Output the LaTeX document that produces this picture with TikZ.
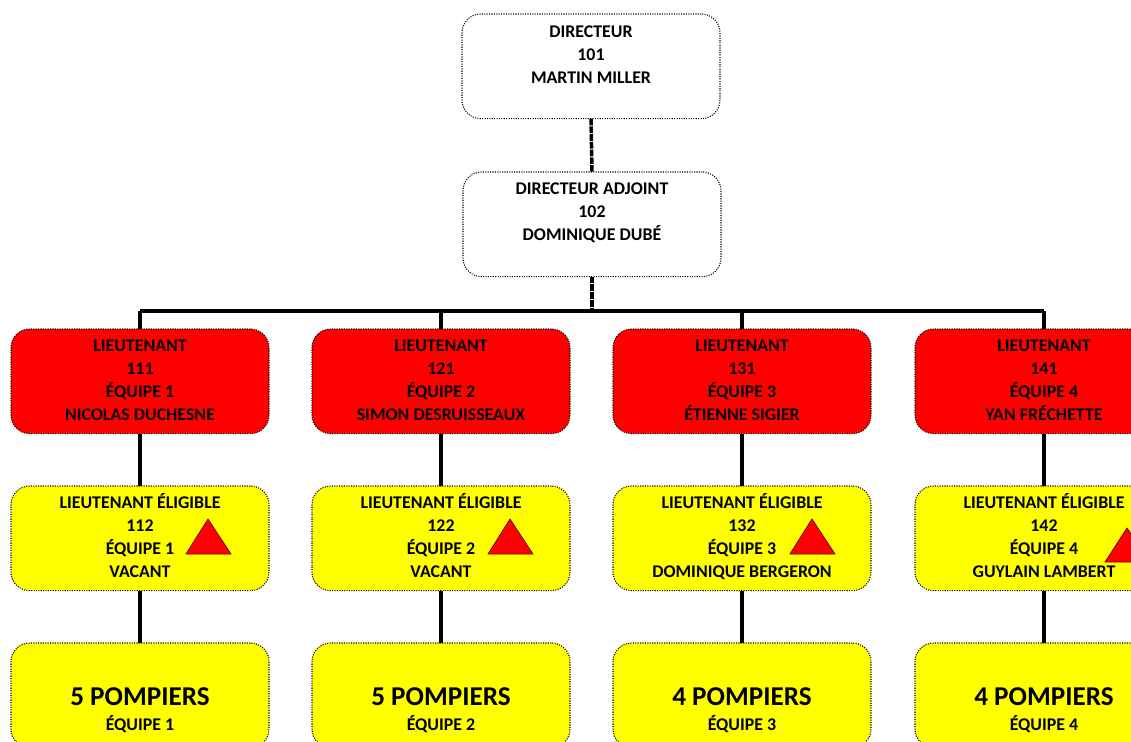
\documentclass[tikz,border=0pt]{standalone}
\usepackage{fontspec}
\setmainfont{Carlito}
\definecolor{pureyellow}{RGB}{255,255,0}
\definecolor{purered}{RGB}{255,0,0}
\newcommand{\boxtext}[2]{\begin{minipage}[c][78.2pt][t]{192pt}\centering\bfseries\fontsize{13.4pt}{17.25pt}\selectfont\vspace*{#1}#2\end{minipage}}
\newcommand{\bigtext}[2]{\begin{minipage}[c][78.2pt][t]{192pt}\centering\bfseries\vspace*{33pt}{\fontsize{20.4pt}{24pt}\selectfont #1\par}\vspace{2pt}{\fontsize{13.4pt}{17.25pt}\selectfont #2\par}\end{minipage}}
\tikzset{
  x=0.75pt,y=-0.75pt,
  orgbox/.style={draw=black,line width=0.8pt,densely dotted,rounded corners=14pt,inner sep=0pt,outer sep=0pt,anchor=north west,minimum width=193.5pt,minimum height=78.5pt},
  whitebox/.style={orgbox,fill=white},
  redbox/.style={orgbox,fill=purered},
  yellowbox/.style={orgbox,fill=pureyellow},
  link/.style={draw=black,line width=2.5pt},
  duplink/.style={draw=black,line width=2.6pt,dash pattern=on 5pt off 0.8pt},
  buslink/.style={draw=black,line width=2.5pt},
  warn/.style={draw=black!60!red,line width=0.5pt,fill=purered},
}
\begin{document}
\begin{tikzpicture}
\useasboundingbox (0,0) rectangle (1131,742);
\clip (0,0) rectangle (1131,742);
\coordinate (busL) at (140,311);
\coordinate (busM) at (592,311);
\coordinate (busR) at (1044,311);
\node[whitebox] (dir) at (462,14) {\boxtext{8.5pt}{DIRECTEUR\\101\\MARTIN MILLER}};
\node[whitebox] (adj) at (463,172) {\boxtext{8pt}{DIRECTEUR ADJOINT\\102\\DOMINIQUE DUBÉ}};
\node[redbox] (l1) at (11,329) {\boxtext{7.75pt}{LIEUTENANT\\111\\ÉQUIPE 1\\NICOLAS DUCHESNE}};
\node[redbox] (l2) at (312,329) {\boxtext{7.75pt}{LIEUTENANT\\121\\ÉQUIPE 2\\SIMON DESRUISSEAUX}};
\node[redbox] (l3) at (613,329) {\boxtext{7.75pt}{LIEUTENANT\\131\\ÉQUIPE 3\\ÉTIENNE SIGIER}};
\node[redbox] (l4) at (915,329) {\boxtext{7.75pt}{LIEUTENANT\\141\\ÉQUIPE 4\\YAN FRÉCHETTE}};
\node[yellowbox] (e1) at (11,486) {\boxtext{5.25pt}{LIEUTENANT ÉLIGIBLE\\112\\ÉQUIPE 1\\VACANT}};
\node[yellowbox] (e2) at (312,486) {\boxtext{5.25pt}{LIEUTENANT ÉLIGIBLE\\122\\ÉQUIPE 2\\VACANT}};
\node[yellowbox] (e3) at (613,486) {\boxtext{5.25pt}{LIEUTENANT ÉLIGIBLE\\132\\ÉQUIPE 3\\DOMINIQUE BERGERON}};
\node[yellowbox] (e4) at (915,486) {\boxtext{5.25pt}{LIEUTENANT ÉLIGIBLE\\142\\ÉQUIPE 4\\GUYLAIN LAMBERT}};
\node[yellowbox] (p1) at (11,643) {\bigtext{5 POMPIERS}{ÉQUIPE 1}};
\node[yellowbox] (p2) at (312,643) {\bigtext{5 POMPIERS}{ÉQUIPE 2}};
\node[yellowbox] (p3) at (613,643) {\bigtext{4 POMPIERS}{ÉQUIPE 3}};
\node[yellowbox] (p4) at (915,643) {\bigtext{4 POMPIERS}{ÉQUIPE 4}};
\draw[duplink] (dir.south) -- (adj.north);
\draw[duplink] (adj.south) -- (busM);
\draw[buslink] (busL) -- (busR);
\foreach \n in {1,2,3,4}{
  \draw[link] (l\n.north |- busL) -- (l\n.north);
  \draw[link] (l\n.south) -- (e\n.north);
  \draw[link] (e\n.south) -- (p\n.north);
}
\draw[warn] (186,554) -- (208,519) -- (231,554) -- cycle;
\draw[warn] (488,554) -- (510,519) -- (533,554) -- cycle;
\draw[warn] (790,554) -- (812,519) -- (835,554) -- cycle;
\draw[warn] (1105,562) -- (1127,528) -- (1150,562) -- cycle;
\end{tikzpicture}
\end{document}
